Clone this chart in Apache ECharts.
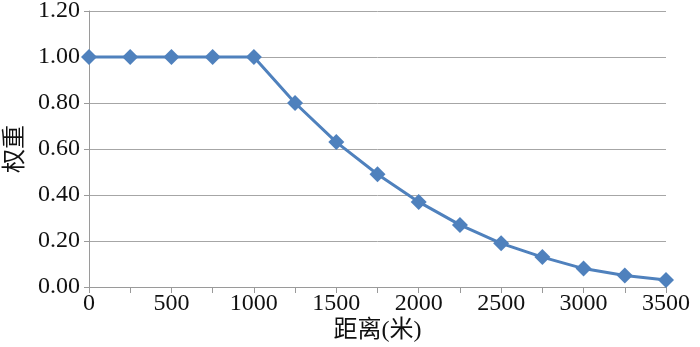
<!DOCTYPE html>
<html><head><meta charset="utf-8">
<script src="https://cdn.jsdelivr.net/npm/echarts@6/dist/echarts.min.js"></script>
<style>html,body{margin:0;padding:0;background:#fff}#c{width:700px;height:347px}</style>
</head><body><div id="c"></div>
<script>
var distances = [0,250,500,750,1000,1250,1500,1750,2000,2250,2500,2750,3000,3250,3500];
var weights = [1.00,1.00,1.00,1.00,1.00,0.80,0.63,0.49,0.37,0.27,0.19,0.13,0.08,0.05,0.03];
var xName = '距离(米)';
var yName = '权重';
var fontFam = "'Liberation Serif','Times New Roman','Noto Sans CJK SC',serif";
var chart = echarts.init(document.getElementById('c'));
chart.setOption({
  animation:false,
  backgroundColor:'#fff',
  grid:{left:89,right:34,top:11,bottom:60,containLabel:false,outerBoundsMode:'none'},
  xAxis:{type:'value',min:0,max:3500,interval:250,
    name:xName,nameLocation:'middle',nameGap:32,nameMoveOverlap:false,
    nameTextStyle:{fontFamily:fontFam,fontSize:24,color:'#111'},
    axisLine:{lineStyle:{color:'#9a9a9a',width:1}},
    axisTick:{show:true,length:6,lineStyle:{color:'#9a9a9a'}},
    splitLine:{show:false},
    axisLabel:{fontFamily:fontFam,fontSize:24,color:'#111',margin:5,
      formatter:function(v){return v%500===0?String(v):'';}}
  },
  yAxis:{type:'value',min:0,max:1.2,interval:0.2,
    name:yName,nameLocation:'middle',nameGap:61,nameRotate:90,nameMoveOverlap:false,
    nameTextStyle:{fontFamily:fontFam,fontSize:24,color:'#111'},
    axisLine:{show:true,lineStyle:{color:'#9a9a9a',width:1}},
    axisTick:{show:true,length:5,lineStyle:{color:'#9a9a9a'}},
    splitLine:{lineStyle:{color:'#a6a6a6',width:1}},
    axisLabel:{fontFamily:fontFam,fontSize:24,color:'#111',margin:9,
      formatter:function(v){return v.toFixed(2);}}
  },
  series:[{type:'line',data:distances.map(function(d,i){return [d,weights[i]];}),
    symbol:'diamond',symbolSize:16,
    lineStyle:{color:'#4f81bd',width:3},
    itemStyle:{color:'#4f81bd'}
  }]
});
</script></body></html>
